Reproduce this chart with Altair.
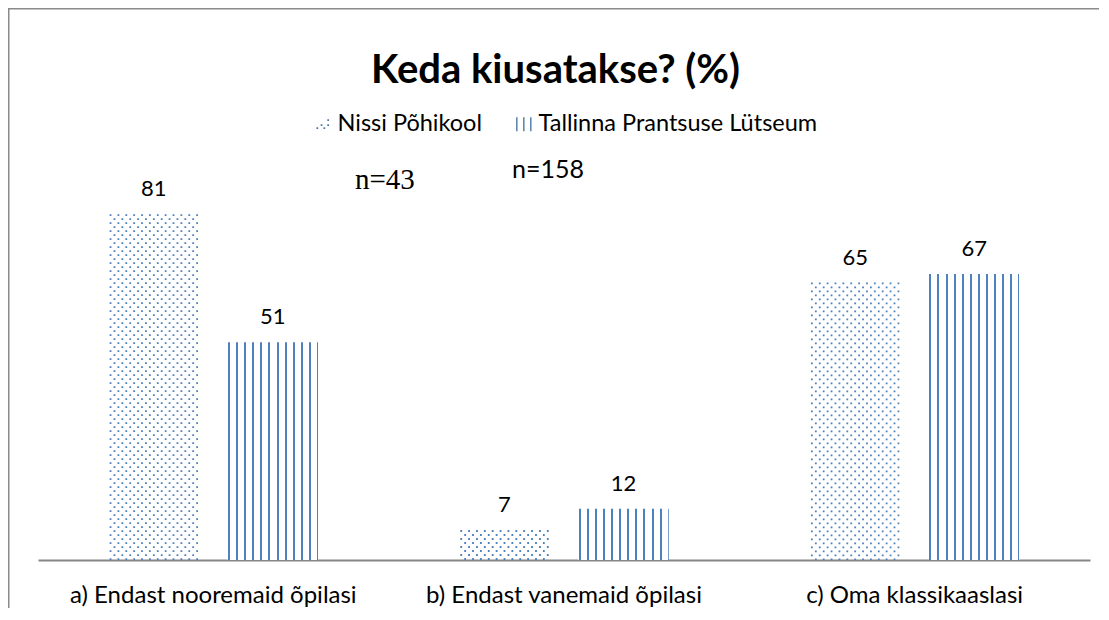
import altair as alt
import pandas as pd

# ---- data ----
categories = ["a) Endast nooremaid õpilasi", "b) Endast vanemaid õpilasi", "c) Oma klassikaaslasi"]
schools = ["Nissi Põhikool", "Tallinna Prantsuse Lütseum"]
nissi = [81, 7, 65]
tallinna = [51, 12, 67]
sample_labels = ["n=43", "n=158"]
title_text = "Keda kiusatakse? (%)"

BLUE = "#4f81bd"
FRAME = "#8a8a8a"
W, H = 1093, 600
BASE = 552  # pixel row of the zero line inside the plot

rows = []
for c, n, t in zip(categories, nissi, tallinna):
    rows.append({"category": c, "school": schools[0], "value": n})
    rows.append({"category": c, "school": schools[1], "value": t})
df = pd.DataFrame(rows)

# columns of the dotted fill pattern (style helper, not data)
N_COLS = 23
pattern = df[df.school == schools[0]].merge(pd.DataFrame({"k": list(range(N_COLS))}), how="cross")

# vertical-stripe gradient for the second series
BAR_W = 90.5
stops = [{"offset": 0, "color": "#ffffff"}]
for k in range(12):
    s = (0.4 + 8.1 * k) / BAR_W
    if s >= 1:
        break
    e = min(s + 2.0 / BAR_W, 1)
    stops += [{"offset": s, "color": "#ffffff"}, {"offset": s, "color": BLUE},
              {"offset": e, "color": BLUE}, {"offset": e, "color": "#ffffff"}]
stops.append({"offset": 1, "color": "#ffffff"})
stripe = {"gradient": "linear", "x1": 0, "x2": 1, "y1": 0, "y2": 0, "stops": stops}


def x_enc(**kw):
    return alt.X(
        "category:N", sort=categories,
        scale=alt.Scale(domain=categories, range=[30, 1082], paddingInner=0, paddingOuter=0),
        axis=alt.Axis(title=None, orient="bottom", offset=BASE - H, domainColor="#868686", domainWidth=2.2,
                      ticks=False, tickSize=0, labelFont="Lato", labelFontSize=24, labelColor="black",
                      labelPadding=23, labelAngle=0, labelLimit=0, grid=False),
        **kw)


xo_enc = alt.XOffset("school:N", sort=schools,
                     scale=alt.Scale(domain=schools, paddingInner=0.2395, paddingOuter=0.593))
y_enc = alt.Y("value:Q", scale=alt.Scale(domain=[0, 129.3], range=[BASE, 0]), axis=None)

bars_t = alt.Chart(df).transform_filter(alt.datum.school == schools[1]).mark_bar(fill=stripe).encode(
    x=x_enc(), xOffset=xo_enc, y=y_enc)

dots = alt.Chart(pattern).mark_rule(
    color=BLUE, strokeWidth=1.8, strokeDash=[1.8, 6.2], strokeCap="butt",
    strokeDashOffset={"expr": "datum.k % 2 ? 4 : 0"},
).encode(
    x=alt.value({"expr": "scale('x', datum.category) + scale('xOffset', datum.school)"
                         f" + (datum.k + 0.5) * bandwidth('xOffset') / {N_COLS}"}),
    y=y_enc, y2=alt.datum(0))

values = alt.Chart(df).mark_text(font="Lato", fontSize=22, baseline="alphabetic", dy=-18,
                                 color="black").encode(
    x=x_enc(), xOffset=xo_enc, y=y_enc, text="value:Q")

dots_path = ("M-0.9,0.45h0.25v0.25h-0.25z M-0.3,0.0h0.25v0.25h-0.25z M0.1,0.45h0.25v0.25h-0.25z "
             "M0.65,-0.7h0.25v0.25h-0.25z M0.65,0.0h0.25v0.25h-0.25z")
lines_path = "M-1.09,-1h0.2v2h-0.2z M-0.09,-1h0.2v2h-0.2z M0.91,-1h0.2v2h-0.2z"

legend_layer = alt.Chart(df).mark_point(filled=True, opacity=0).encode(
    x=x_enc(), xOffset=xo_enc, y=y_enc,
    shape=alt.Shape("school:N", sort=schools,
                    scale=alt.Scale(domain=schools, range=[dots_path, lines_path]),
                    legend=alt.Legend(orient="none", legendX=303, legendY=104, direction="horizontal",
                                      title=None, labelFont="Lato", labelFontSize=23.5, labelColor="black",
                                      labelLimit=0, symbolSize=196, symbolFillColor=BLUE,
                                      symbolStrokeWidth=0, symbolOpacity=1, labelOffset=3,
                                      columnPadding=30, padding=0)))

n43 = alt.Chart(pd.DataFrame({"t": [sample_labels[0]]})).mark_text(
    font="Liberation Serif", fontSize=29, align="left", baseline="alphabetic", color="black").encode(
    x=alt.value(347), y=alt.value(181), text="t:N")
n158 = alt.Chart(pd.DataFrame({"t": [sample_labels[1]]})).mark_text(
    font="Lato", fontSize=25, align="left", baseline="alphabetic", color="black").encode(
    x=alt.value(504), y=alt.value(170), text="t:N")

# chart-area frame (top and left edges, the others lie outside the picture)
frame_top = alt.Chart(pd.DataFrame({"f": [0]})).mark_rule(color=FRAME, strokeWidth=3).encode(
    x=alt.value(0), x2=alt.value(W - 2), y=alt.value(0))
frame_left = alt.Chart(pd.DataFrame({"f": [0]})).mark_rule(color=FRAME, strokeWidth=3).encode(
    x=alt.value(0), y=alt.value(0), y2=alt.value(H))

chart = alt.layer(bars_t, dots, values, legend_layer, n43, n158, frame_top, frame_left).properties(
    width=W, height=H,
    autosize=alt.AutoSizeParams(type="none"),
    padding=0,
    title=alt.TitleParams(title_text, font="Lato", fontSize=40, fontWeight="bold", color="black",
                          anchor="middle", offset=-84, dx=1, frame="group"),
).configure_view(stroke=None)

chart.save("out.html", embed_options={"renderer": "svg", "actions": False})
